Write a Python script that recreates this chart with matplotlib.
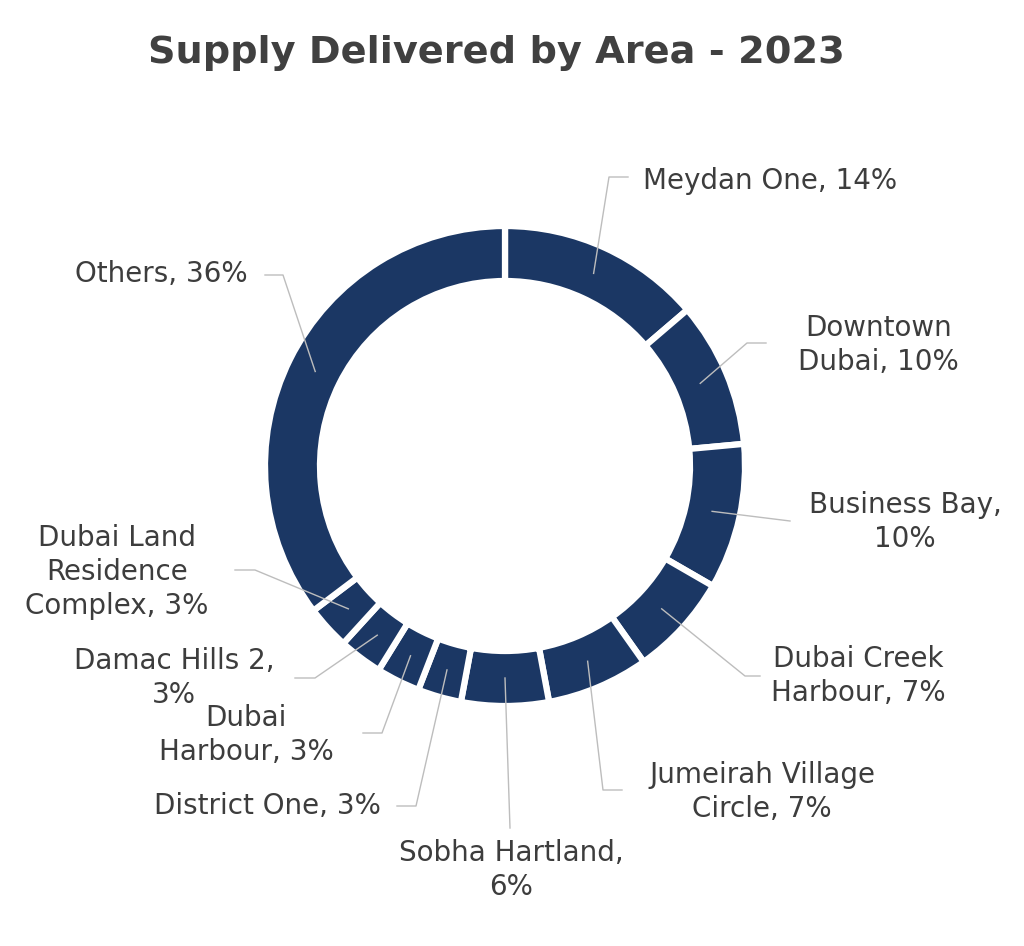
import numpy as np
import matplotlib
matplotlib.use('Agg')
import matplotlib.pyplot as plt

# ==============================================================
# DATA
# ==============================================================

areas = [
    'Meydan One, 14%', 'Downtown\nDubai, 10%', 'Business Bay,\n10%',
    'Dubai Creek\nHarbour, 7%', 'Jumeirah Village\nCircle, 7%',
    'Sobha Hartland,\n6%', 'District One, 3%', 'Dubai\nHarbour, 3%',
    'Damac Hills 2,\n3%', 'Dubai Land\nResidence\nComplex, 3%', 'Others, 36%'
]
shares = [14, 10, 10, 7, 7, 6, 3, 3, 3, 3, 36]

# ==============================================================
# LAYOUT (pixel coordinates, y from top)
# ==============================================================

W, H = 1024, 946
cx, cy, R = 505, 466, 240

# elbow, line end, text anchor, alignment
layout = [
    ((609, 177), (628, 177), (643, 181), 'left'),
    ((747, 343), (766, 343), (798, 345), 'left'),
    ((790, 521), (790, 521), (905, 522), 'center'),
    ((745, 676), (760, 676), (858, 676), 'center'),
    ((603, 790), (622, 790), (762, 792), 'center'),
    ((510, 828), (510, 828), (511, 870), 'center'),
    ((416, 806), (397, 806), (381, 806), 'right'),
    ((382, 733), (363, 733), (246, 735), 'center'),
    ((315, 678), (295, 678), (174, 678), 'center'),
    ((255, 570), (235, 570), (117, 572), 'center'),
    ((283, 275), (265, 275), (248, 274), 'right'),
]

navy = '#1b3764'
txt = '#3d3d3d'
plt.rcParams['font.family'] = ['DejaVu Sans']

fig = plt.figure(figsize=(W / 100, H / 100), dpi=100)
ax = fig.add_axes([0, 0, 1, 1])

wedges, _ = ax.pie(
    shares,
    center=(cx, H - cy),
    radius=R,
    startangle=90,
    counterclock=False,
    colors=[navy] * len(shares),
    wedgeprops={'width': 55, 'edgecolor': 'white', 'linewidth': 4.5},
    frame=True,
)
ax.set_xlim(0, W)
ax.set_ylim(0, H)
ax.set_aspect('equal')
ax.axis('off')

for w, label, (elbow, end, pos, ha) in zip(wedges, areas, layout):
    mid = np.deg2rad((w.theta1 + w.theta2) / 2)
    sx = cx + 212 * np.cos(mid)
    sy = (H - cy) + 212 * np.sin(mid)
    ax.plot([sx, elbow[0], end[0]], [sy, H - elbow[1], H - end[1]],
            color='#bdbdbd', lw=1, zorder=3)
    ax.text(pos[0], H - pos[1], label, ha=ha, va='center',
            fontsize=20, color=txt, linespacing=1.25, multialignment='center')

ax.text(496, H - 53, 'Supply Delivered by Area - 2023', ha='center', va='center',
        fontsize=27.5, fontweight='bold', color='#404040')

fig.savefig('out.png', dpi=100)
